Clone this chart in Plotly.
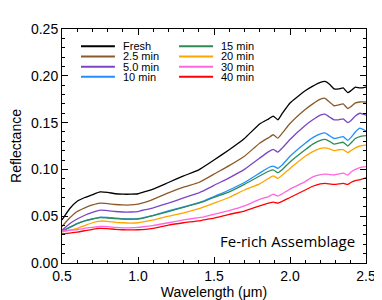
import plotly.graph_objects as go

wavelength = [0.50, 0.55, 0.60, 0.65, 0.70, 0.75, 0.80, 0.85, 0.90, 0.95, 1.00, 1.05, 1.10,
              1.20, 1.30, 1.40, 1.43, 1.50, 1.60, 1.70, 1.80, 1.86, 1.89, 1.92, 1.95, 2.00,
              2.10, 2.15, 2.20, 2.23, 2.26, 2.29, 2.32, 2.35, 2.38, 2.40, 2.43, 2.46, 2.50]

fresh = [0.046, 0.058, 0.066, 0.070, 0.073, 0.076, 0.0755, 0.074, 0.0735, 0.0735, 0.074, 0.0765, 0.079,
         0.086, 0.093, 0.0995, 0.1025, 0.110, 0.121, 0.133, 0.1485, 0.154, 0.157, 0.153, 0.160, 0.171,
         0.184, 0.189, 0.193, 0.194, 0.191, 0.186, 0.186, 0.187, 0.182, 0.184, 0.188, 0.187, 0.188]
min_2_5 = [0.039, 0.048, 0.055, 0.059, 0.062, 0.064, 0.0635, 0.0625, 0.062, 0.062, 0.063, 0.065, 0.068,
           0.075, 0.081, 0.086, 0.0885, 0.095, 0.104, 0.114, 0.128, 0.134, 0.137, 0.1335, 0.139, 0.149,
           0.164, 0.170, 0.175, 0.176, 0.172, 0.168, 0.169, 0.170, 0.165, 0.167, 0.171, 0.172, 0.172]
min_5_0 = [0.035, 0.042, 0.047, 0.051, 0.054, 0.0565, 0.056, 0.055, 0.0545, 0.0545, 0.055, 0.057, 0.059,
           0.064, 0.0695, 0.075, 0.077, 0.083, 0.091, 0.100, 0.112, 0.119, 0.1215, 0.1185, 0.123, 0.132,
           0.147, 0.153, 0.158, 0.159, 0.156, 0.153, 0.153, 0.154, 0.150, 0.152, 0.157, 0.160, 0.158]
min_10 = [0.034, 0.038, 0.042, 0.045, 0.047, 0.049, 0.0488, 0.048, 0.0472, 0.047, 0.0475, 0.049, 0.051,
          0.0558, 0.060, 0.0645, 0.066, 0.071, 0.078, 0.086, 0.096, 0.102, 0.1035, 0.1012, 0.105, 0.114,
          0.128, 0.134, 0.138, 0.139, 0.136, 0.133, 0.134, 0.135, 0.131, 0.134, 0.140, 0.144, 0.141]
min_15 = [0.034, 0.038, 0.042, 0.045, 0.047, 0.0485, 0.048, 0.0475, 0.047, 0.0468, 0.047, 0.0485, 0.0505,
          0.055, 0.0595, 0.064, 0.0655, 0.070, 0.076, 0.084, 0.093, 0.098, 0.0995, 0.0965, 0.100, 0.108,
          0.121, 0.127, 0.131, 0.132, 0.130, 0.127, 0.128, 0.129, 0.125, 0.128, 0.133, 0.135, 0.136]
min_20 = [0.033, 0.035, 0.037, 0.040, 0.043, 0.0448, 0.0445, 0.0435, 0.043, 0.0427, 0.043, 0.0445, 0.046,
          0.050, 0.0535, 0.058, 0.0598, 0.064, 0.070, 0.078, 0.0845, 0.0905, 0.093, 0.0905, 0.094, 0.101,
          0.114, 0.119, 0.1225, 0.123, 0.122, 0.120, 0.121, 0.121, 0.118, 0.120, 0.123, 0.125, 0.126]
min_30 = [0.034, 0.035, 0.0355, 0.037, 0.038, 0.039, 0.0388, 0.038, 0.0375, 0.0375, 0.038, 0.039, 0.040,
          0.043, 0.046, 0.0485, 0.049, 0.052, 0.056, 0.061, 0.068, 0.071, 0.0735, 0.0715, 0.074, 0.079,
          0.087, 0.092, 0.0945, 0.095, 0.0945, 0.094, 0.095, 0.096, 0.094, 0.097, 0.100, 0.102, 0.103]
min_40 = [0.031, 0.032, 0.033, 0.0345, 0.036, 0.037, 0.0368, 0.036, 0.0355, 0.0353, 0.0355, 0.036, 0.037,
          0.0405, 0.043, 0.045, 0.046, 0.048, 0.052, 0.0555, 0.061, 0.064, 0.065, 0.064, 0.066, 0.070,
          0.078, 0.082, 0.0845, 0.085, 0.0845, 0.084, 0.0845, 0.085, 0.084, 0.086, 0.088, 0.089, 0.091]

series_names = ["Fresh", "2.5 min", "5.0 min", "10 min", "15 min", "20 min", "30 min", "40 min"]
series_values = [fresh, min_2_5, min_5_0, min_10, min_15, min_20, min_30, min_40]
series_colors = ["#000000", "#8B5A2B", "#7B45C8", "#1E90FF", "#2E8B57", "#FFA500", "#FF66E0", "#FF0000"]

x_ticks = [0.5, 1.0, 1.5, 2.0, 2.5]
x_tick_labels = ["0.5", "1.0", "1.5", "2.0", "2.5"]
y_ticks = [0.00, 0.05, 0.10, 0.15, 0.20, 0.25]
y_tick_labels = ["0.00", "0.05", "0.10", "0.15", "0.20", "0.25"]

fig = go.Figure()
for name, vals, col in zip(series_names, series_values, series_colors):
    fig.add_trace(go.Scatter(x=wavelength, y=vals, mode="lines", name=name, showlegend=False,
                             line=dict(color=col, width=1.3, shape="spline", smoothing=0.4)))

# manual legend (two columns, four rows)
col_x = [(0.0625, 0.174, 0.194), (0.385, 0.497, 0.516)]
row_y = [0.926, 0.883, 0.839, 0.796]
for i, (name, col) in enumerate(zip(series_names, series_colors)):
    c = col_x[i // 4]
    yy = row_y[i % 4]
    fig.add_shape(type="line", xref="paper", yref="paper", x0=c[0], x1=c[1], y0=yy, y1=yy,
                  line=dict(color=col, width=2))
    fig.add_annotation(xref="paper", yref="paper", x=c[2], y=yy, text=name, showarrow=False,
                       xanchor="left", yanchor="middle",
                       font=dict(family="Liberation Sans, Arial", size=11, color="black"))

fig.add_annotation(xref="paper", yref="paper", x=0.97, y=0.092, text="Fe-rich Assemblage",
                   showarrow=False, xanchor="right", yanchor="middle",
                   font=dict(family="Open Sans", size=15, color="black"))

axis_common = dict(showline=True, linecolor="black", linewidth=1, mirror="ticks", ticks="inside",
                   ticklen=6, tickcolor="black", showgrid=False, zeroline=False,
                   tickfont=dict(family="Liberation Sans, Arial", size=14, color="black"))

fig.update_xaxes(range=[0.5, 2.5], tickvals=x_ticks, ticktext=x_tick_labels,
                 minor=dict(dtick=0.1, ticks="inside", ticklen=3, tickcolor="black"),
                 title=dict(text="Wavelength (μm)", standoff=4,
                            font=dict(family="Liberation Sans, Arial", size=14, color="black")),
                 **axis_common)
fig.update_yaxes(range=[0, 0.25], tickvals=y_ticks, ticktext=y_tick_labels,
                 minor=dict(dtick=0.01, ticks="inside", ticklen=3, tickcolor="black"),
                 title=dict(text="Reflectance", standoff=6,
                            font=dict(family="Liberation Sans, Arial", size=14, color="black")),
                 **axis_common)

# page body has an 8px margin, so the figure is sized/offset to compensate
fig.update_layout(width=374, height=292, margin=dict(l=54, r=16, t=21, b=37, autoexpand=False),
                  plot_bgcolor="white", paper_bgcolor="white")

fig.write_html("out.html")
